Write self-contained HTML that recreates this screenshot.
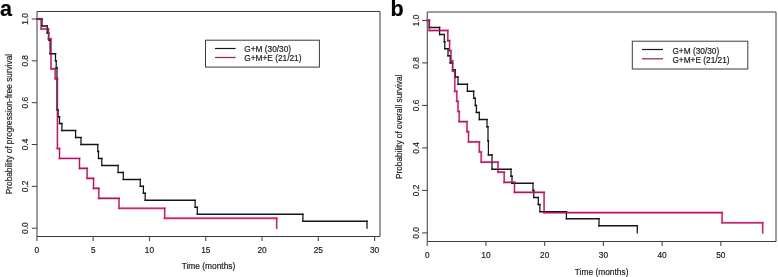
<!DOCTYPE html>
<html><head><meta charset="utf-8"><style>
html,body{margin:0;padding:0;background:#fff;width:778px;height:277px;overflow:hidden}
svg{display:block;will-change:transform}
text{font-family:"Liberation Sans", sans-serif;fill:#1a1a1a;stroke:#1a1a1a;stroke-width:0.18px}
.tk{font-size:8.3px}
.lb{font-size:8.25px}
.xl{font-size:8.4px}
.lg{font-size:8.3px}
.pl{font-size:21.5px;font-weight:bold;fill:#000}
</style></head><body>
<svg width="778" height="277" viewBox="0 0 778 277">
<line x1="37" y1="11.5" x2="380" y2="11.5" stroke="#3a3a3a" stroke-width="1"/>
<line x1="37" y1="236.5" x2="380" y2="236.5" stroke="#3a3a3a" stroke-width="1"/>
<line x1="37" y1="11.5" x2="37" y2="236.5" stroke="#5a5a5a" stroke-width="1.2"/>
<line x1="380" y1="11.5" x2="380" y2="236.5" stroke="#5a5a5a" stroke-width="1.2"/>
<line x1="36.90" y1="236.5" x2="36.90" y2="241.1" stroke="#5a5a5a" stroke-width="1.2"/>
<text x="36.90" y="253.0" text-anchor="middle" class="tk">0</text>
<line x1="93.19" y1="236.5" x2="93.19" y2="241.1" stroke="#5a5a5a" stroke-width="1.2"/>
<text x="93.19" y="253.0" text-anchor="middle" class="tk">5</text>
<line x1="149.47" y1="236.5" x2="149.47" y2="241.1" stroke="#5a5a5a" stroke-width="1.2"/>
<text x="149.47" y="253.0" text-anchor="middle" class="tk">10</text>
<line x1="205.75" y1="236.5" x2="205.75" y2="241.1" stroke="#5a5a5a" stroke-width="1.2"/>
<text x="205.75" y="253.0" text-anchor="middle" class="tk">15</text>
<line x1="262.04" y1="236.5" x2="262.04" y2="241.1" stroke="#5a5a5a" stroke-width="1.2"/>
<text x="262.04" y="253.0" text-anchor="middle" class="tk">20</text>
<line x1="318.32" y1="236.5" x2="318.32" y2="241.1" stroke="#5a5a5a" stroke-width="1.2"/>
<text x="318.32" y="253.0" text-anchor="middle" class="tk">25</text>
<line x1="374.61" y1="236.5" x2="374.61" y2="241.1" stroke="#5a5a5a" stroke-width="1.2"/>
<text x="374.61" y="253.0" text-anchor="middle" class="tk">30</text>
<line x1="31.8" y1="228.20" x2="37" y2="228.20" stroke="#3a3a3a" stroke-width="1"/>
<text transform="translate(28.3,228.20) rotate(-90)" x="0" y="0" text-anchor="middle" class="tk">0.0</text>
<line x1="31.8" y1="186.36" x2="37" y2="186.36" stroke="#3a3a3a" stroke-width="1"/>
<text transform="translate(28.3,186.36) rotate(-90)" x="0" y="0" text-anchor="middle" class="tk">0.2</text>
<line x1="31.8" y1="144.52" x2="37" y2="144.52" stroke="#3a3a3a" stroke-width="1"/>
<text transform="translate(28.3,144.52) rotate(-90)" x="0" y="0" text-anchor="middle" class="tk">0.4</text>
<line x1="31.8" y1="102.68" x2="37" y2="102.68" stroke="#3a3a3a" stroke-width="1"/>
<text transform="translate(28.3,102.68) rotate(-90)" x="0" y="0" text-anchor="middle" class="tk">0.6</text>
<line x1="31.8" y1="60.84" x2="37" y2="60.84" stroke="#3a3a3a" stroke-width="1"/>
<text transform="translate(28.3,60.84) rotate(-90)" x="0" y="0" text-anchor="middle" class="tk">0.8</text>
<line x1="31.8" y1="19.00" x2="37" y2="19.00" stroke="#3a3a3a" stroke-width="1"/>
<text transform="translate(28.3,19.00) rotate(-90)" x="0" y="0" text-anchor="middle" class="tk">1.0</text>
<text transform="translate(12.1,124.00) rotate(-90)" text-anchor="middle" class="lb">Probability of progression-free survival</text>
<text x="208.5" y="268.8" text-anchor="middle" class="xl">Time (months)</text>
<line x1="427.3" y1="12" x2="776" y2="12" stroke="#3a3a3a" stroke-width="1"/>
<line x1="427.3" y1="241.5" x2="776" y2="241.5" stroke="#3a3a3a" stroke-width="1"/>
<line x1="427.3" y1="12" x2="427.3" y2="241.5" stroke="#5a5a5a" stroke-width="1.2"/>
<line x1="776" y1="12" x2="776" y2="241.5" stroke="#5a5a5a" stroke-width="1.2"/>
<line x1="427.20" y1="241.5" x2="427.20" y2="246.1" stroke="#5a5a5a" stroke-width="1.2"/>
<text x="427.20" y="257.8" text-anchor="middle" class="tk">0</text>
<line x1="485.93" y1="241.5" x2="485.93" y2="246.1" stroke="#5a5a5a" stroke-width="1.2"/>
<text x="485.93" y="257.8" text-anchor="middle" class="tk">10</text>
<line x1="544.66" y1="241.5" x2="544.66" y2="246.1" stroke="#5a5a5a" stroke-width="1.2"/>
<text x="544.66" y="257.8" text-anchor="middle" class="tk">20</text>
<line x1="603.39" y1="241.5" x2="603.39" y2="246.1" stroke="#5a5a5a" stroke-width="1.2"/>
<text x="603.39" y="257.8" text-anchor="middle" class="tk">30</text>
<line x1="662.12" y1="241.5" x2="662.12" y2="246.1" stroke="#5a5a5a" stroke-width="1.2"/>
<text x="662.12" y="257.8" text-anchor="middle" class="tk">40</text>
<line x1="720.85" y1="241.5" x2="720.85" y2="246.1" stroke="#5a5a5a" stroke-width="1.2"/>
<text x="720.85" y="257.8" text-anchor="middle" class="tk">50</text>
<line x1="422.1" y1="232.90" x2="427.3" y2="232.90" stroke="#3a3a3a" stroke-width="1"/>
<text transform="translate(418.8,232.90) rotate(-90)" x="0" y="0" text-anchor="middle" class="tk">0.0</text>
<line x1="422.1" y1="190.40" x2="427.3" y2="190.40" stroke="#3a3a3a" stroke-width="1"/>
<text transform="translate(418.8,190.40) rotate(-90)" x="0" y="0" text-anchor="middle" class="tk">0.2</text>
<line x1="422.1" y1="147.90" x2="427.3" y2="147.90" stroke="#3a3a3a" stroke-width="1"/>
<text transform="translate(418.8,147.90) rotate(-90)" x="0" y="0" text-anchor="middle" class="tk">0.4</text>
<line x1="422.1" y1="105.40" x2="427.3" y2="105.40" stroke="#3a3a3a" stroke-width="1"/>
<text transform="translate(418.8,105.40) rotate(-90)" x="0" y="0" text-anchor="middle" class="tk">0.6</text>
<line x1="422.1" y1="62.90" x2="427.3" y2="62.90" stroke="#3a3a3a" stroke-width="1"/>
<text transform="translate(418.8,62.90) rotate(-90)" x="0" y="0" text-anchor="middle" class="tk">0.8</text>
<line x1="422.1" y1="20.40" x2="427.3" y2="20.40" stroke="#3a3a3a" stroke-width="1"/>
<text transform="translate(418.8,20.40) rotate(-90)" x="0" y="0" text-anchor="middle" class="tk">1.0</text>
<text transform="translate(401.6,126.75) rotate(-90)" text-anchor="middle" class="lb">Probability of overall survival</text>
<text x="601.65" y="275.0" text-anchor="middle" class="xl">Time (months)</text>
<path d="M37,19.00H41.1M41.1,28.96H48.5M48.5,38.92H51M51,68.81H55.2M55.2,78.77H57.4M57.4,148.50H59.5M59.5,158.47H79.5M79.5,168.43H87.1M87.1,178.39H93.5M93.5,188.35H98.8M98.8,198.31H119M119,208.28H164.7M164.7,218.24H276.7" fill="none" stroke="#ff7ab8" stroke-width="2.3" stroke-linecap="square"/>
<path d="M41.1,19.00V28.96M48.5,28.96V38.92M51,38.92V68.81M55.2,68.81V78.77M57.4,78.77V148.50M59.5,148.50V158.47M79.5,158.47V168.43M87.1,168.43V178.39M93.5,178.39V188.35M98.8,188.35V198.31M119,198.31V208.28M164.7,208.28V218.24M276.7,218.24V228.20" fill="none" stroke="#ff7ab8" stroke-width="1.9" stroke-linecap="square"/>
<path d="M427.2,20.40H429.3M429.3,30.52H447.8M447.8,40.64H449.6M449.6,50.76H451M451,60.88H452.6M452.6,71.00H454.8M454.8,91.23H456.8M456.8,101.35H458M458,111.47H459.2M459.2,121.59H467M467,131.71H468.5M468.5,141.83H479.3M479.3,151.95H481.2M481.2,162.07H498M498,172.19H504.2M504.2,182.30H514.5M514.5,192.42H544.1M544.1,212.66H722.1M722.1,222.78H762.7" fill="none" stroke="#ff7ab8" stroke-width="2.3" stroke-linecap="square"/>
<path d="M429.3,20.40V30.52M447.8,30.52V40.64M449.6,40.64V50.76M451,50.76V60.88M452.6,60.88V71.00M454.8,71.00V91.23M456.8,91.23V101.35M458,101.35V111.47M459.2,111.47V121.59M467,121.59V131.71M468.5,131.71V141.83M479.3,141.83V151.95M481.2,151.95V162.07M498,162.07V172.19M504.2,172.19V182.30M514.5,182.30V192.42M544.1,192.42V212.66M722.1,212.66V222.78M762.7,222.78V232.90" fill="none" stroke="#ff7ab8" stroke-width="1.9" stroke-linecap="square"/>
<path d="M37,19.00H42M42,25.97H47.2M47.2,32.95H48.7M48.7,39.92H50.1M50.1,53.87H55.5M55.5,60.84H56.2M56.2,67.81H57M57,109.65H58.1M58.1,116.63H59.5M59.5,123.60H61.9M61.9,130.57H75.6M75.6,137.55H81M81,144.52H97.8M97.8,151.49H98.5M98.5,158.47H101.8M101.8,165.44H118.1M118.1,172.41H123.3M123.3,179.39H140.3M140.3,186.36H143.4M143.4,193.33H145.2M145.2,200.31H195.1M195.1,207.28H197.3M197.3,214.25H302.9M302.9,221.23H367" fill="none" stroke="#151515" stroke-width="1.5" stroke-linecap="square"/>
<path d="M42,19.00V25.97M47.2,25.97V32.95M48.7,32.95V39.92M50.1,39.92V53.87M55.5,53.87V60.84M56.2,60.84V67.81M57,67.81V109.65M58.1,109.65V116.63M59.5,116.63V123.60M61.9,123.60V130.57M75.6,130.57V137.55M81,137.55V144.52M97.8,144.52V151.49M98.5,151.49V158.47M101.8,158.47V165.44M118.1,165.44V172.41M123.3,172.41V179.39M140.3,179.39V186.36M143.4,186.36V193.33M145.2,193.33V200.31M195.1,200.31V207.28M197.3,207.28V214.25M302.9,214.25V221.23M367,221.23V228.20" fill="none" stroke="#151515" stroke-width="1.25" stroke-linecap="square"/>
<path d="M427.2,20.40H429.3M429.3,27.48H439.6M439.6,34.57H444.3M444.3,41.65H444.8M444.8,48.73H448M448,55.82H450.2M450.2,62.90H452.6M452.6,69.98H455.3M455.3,77.07H458M458,84.15H467.4M467.4,91.23H473.7M473.7,98.32H475.3M475.3,105.40H476.4M476.4,112.48H479.3M479.3,119.57H487M487,126.65H488M488,140.82H488.4M488.4,154.98H492M492,169.15H511M511,176.23H512M512,183.32H533M533,190.40H533.8M533.8,197.48H538.3M538.3,204.57H539.9M539.9,211.65H566.4M566.4,218.73H599M599,225.82H637.3" fill="none" stroke="#151515" stroke-width="1.5" stroke-linecap="square"/>
<path d="M429.3,20.40V27.48M439.6,27.48V34.57M444.3,34.57V41.65M444.8,41.65V48.73M448,48.73V55.82M450.2,55.82V62.90M452.6,62.90V69.98M455.3,69.98V77.07M458,77.07V84.15M467.4,84.15V91.23M473.7,91.23V98.32M475.3,98.32V105.40M476.4,105.40V112.48M479.3,112.48V119.57M487,119.57V126.65M488,126.65V140.82M488.4,140.82V154.98M492,154.98V169.15M511,169.15V176.23M512,176.23V183.32M533,183.32V190.40M533.8,190.40V197.48M538.3,197.48V204.57M539.9,204.57V211.65M566.4,211.65V218.73M599,218.73V225.82M637.3,225.82V232.90" fill="none" stroke="#151515" stroke-width="1.25" stroke-linecap="square"/>
<path d="M37,19.00H41.1M41.1,28.96H48.5M48.5,38.92H51M51,68.81H55.2M55.2,78.77H57.4M57.4,148.50H59.5M59.5,158.47H79.5M79.5,168.43H87.1M87.1,178.39H93.5M93.5,188.35H98.8M98.8,198.31H119M119,208.28H164.7M164.7,218.24H276.7" fill="none" stroke="#98205c" stroke-width="1.15" stroke-linecap="square"/>
<path d="M41.1,19.00V28.96M48.5,28.96V38.92M51,38.92V68.81M55.2,68.81V78.77M57.4,78.77V148.50M59.5,148.50V158.47M79.5,158.47V168.43M87.1,168.43V178.39M93.5,178.39V188.35M98.8,188.35V198.31M119,198.31V208.28M164.7,208.28V218.24M276.7,218.24V228.20" fill="none" stroke="#98205c" stroke-width="1.0" stroke-linecap="square"/>
<path d="M427.2,20.40H429.3M429.3,30.52H447.8M447.8,40.64H449.6M449.6,50.76H451M451,60.88H452.6M452.6,71.00H454.8M454.8,91.23H456.8M456.8,101.35H458M458,111.47H459.2M459.2,121.59H467M467,131.71H468.5M468.5,141.83H479.3M479.3,151.95H481.2M481.2,162.07H498M498,172.19H504.2M504.2,182.30H514.5M514.5,192.42H544.1M544.1,212.66H722.1M722.1,222.78H762.7" fill="none" stroke="#98205c" stroke-width="1.15" stroke-linecap="square"/>
<path d="M429.3,20.40V30.52M447.8,30.52V40.64M449.6,40.64V50.76M451,50.76V60.88M452.6,60.88V71.00M454.8,71.00V91.23M456.8,91.23V101.35M458,101.35V111.47M459.2,111.47V121.59M467,121.59V131.71M468.5,131.71V141.83M479.3,141.83V151.95M481.2,151.95V162.07M498,162.07V172.19M504.2,172.19V182.30M514.5,182.30V192.42M544.1,192.42V212.66M722.1,212.66V222.78M762.7,222.78V232.90" fill="none" stroke="#98205c" stroke-width="1.0" stroke-linecap="square"/>
<rect x="205.5" y="40.2" width="113.89999999999998" height="26.89999999999999" fill="#fff" stroke="#3a3a3a" stroke-width="1"/>
<line x1="215.0" y1="48.5" x2="235.6" y2="48.5" stroke="#151515" stroke-width="1.2"/>
<line x1="215.0" y1="57.5" x2="235.6" y2="57.5" stroke="#9a2c5c" stroke-width="1.3"/>
<text x="244.3" y="52.1" class="lg">G+M (30/30)</text>
<text x="244.3" y="61.3" class="lg">G+M+E (21/21)</text>
<rect x="632.3" y="41.2" width="115.5" height="27.799999999999997" fill="#fff" stroke="#3a3a3a" stroke-width="1"/>
<line x1="642.0" y1="49.5" x2="663.0" y2="49.5" stroke="#151515" stroke-width="1.2"/>
<line x1="642.0" y1="58.8" x2="663.0" y2="58.8" stroke="#9a2c5c" stroke-width="1.3"/>
<text x="672.4" y="53.9" class="lg">G+M (30/30)</text>
<text x="672.4" y="63.1" class="lg">G+M+E (21/21)</text>
<text x="0.1" y="15.5" class="pl">a</text>
<text x="390.6" y="15.9" class="pl">b</text>
</svg>
</body></html>
